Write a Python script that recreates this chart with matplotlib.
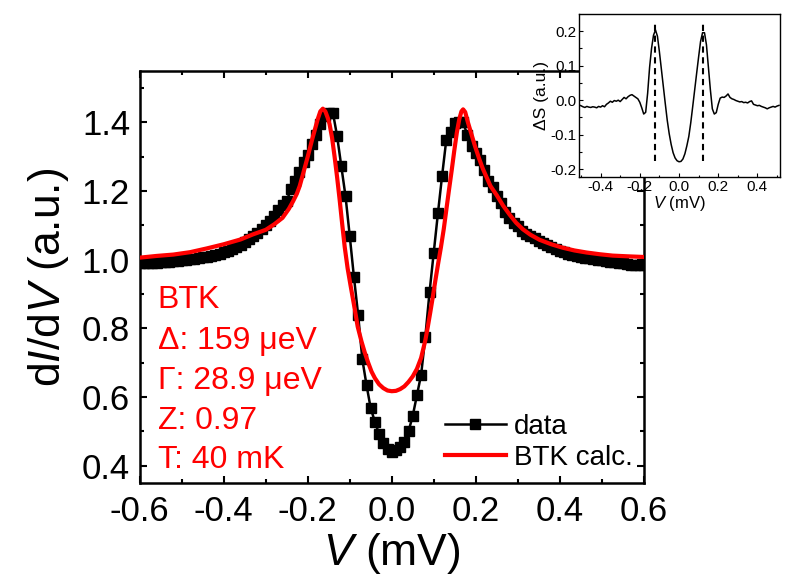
import numpy as np
import matplotlib
matplotlib.use("Agg")
import matplotlib.pyplot as plt
from matplotlib.ticker import MultipleLocator, FormatStrFormatter

plt.rcParams['font.family'] = ['Liberation Sans', 'DejaVu Sans']
plt.rcParams['mathtext.fontset'] = 'custom'
plt.rcParams['mathtext.rm'] = 'Liberation Sans'
plt.rcParams['mathtext.it'] = 'Liberation Sans:italic'
plt.rcParams['axes.unicode_minus'] = False

# ---- measured dI/dV data (V step 0.01 mV) ----
data_v = np.round(np.arange(-60, 61) * 0.01, 2)
data_g = [0.990, 0.990, 0.991, 0.991, 0.991, 0.992, 0.993, 0.994, 0.995, 0.996,
          0.998, 1.000, 1.002, 1.003, 1.005, 1.007, 1.009, 1.012, 1.015, 1.018,
          1.022, 1.026, 1.031, 1.037, 1.044, 1.051, 1.059, 1.069, 1.078, 1.090,
          1.100, 1.112, 1.126, 1.144, 1.160, 1.172, 1.205, 1.228, 1.255, 1.285,
          1.305, 1.336, 1.362, 1.395, 1.420, 1.426, 1.428, 1.360, 1.272, 1.185,
          1.070, 0.950, 0.840, 0.710, 0.635, 0.567, 0.528, 0.492, 0.466, 0.450,
          0.441,
          0.445, 0.455, 0.470, 0.500, 0.545, 0.605, 0.665, 0.775, 0.905, 1.020,
          1.135, 1.245, 1.350, 1.373, 1.399, 1.400, 1.400, 1.364, 1.330, 1.312,
          1.290, 1.262, 1.230, 1.213, 1.185, 1.165, 1.140, 1.122, 1.108, 1.097,
          1.085, 1.076, 1.069, 1.062, 1.055, 1.050, 1.043, 1.036, 1.031, 1.026,
          1.022, 1.017, 1.013, 1.010, 1.008, 1.006, 1.004, 1.002, 1.000, 0.998,
          0.996, 0.994, 0.992, 0.991, 0.989, 0.988, 0.986, 0.985, 0.985, 0.985]

# ---- BTK calculation curve ----
btk_v = [-0.600, -0.560, -0.520, -0.480, -0.440, -0.400, -0.360, -0.330, -0.300, -0.280,
         -0.260, -0.245, -0.235, -0.226, -0.219, -0.210, -0.200, -0.190, -0.183, -0.176,
         -0.170, -0.164, -0.158, -0.152, -0.148, -0.142, -0.136, -0.130, -0.124, -0.118,
         -0.112, -0.105, -0.098, -0.090, -0.081, -0.072, -0.064, -0.056, -0.048, -0.040,
         -0.030, -0.020, -0.010, 0.000,
         0.010, 0.020, 0.030, 0.040, 0.050, 0.060, 0.070, 0.080, 0.086, 0.092,
         0.098, 0.104, 0.110, 0.117, 0.124, 0.130, 0.136, 0.143, 0.149, 0.155,
         0.161, 0.166, 0.170, 0.175, 0.181, 0.190, 0.198, 0.208, 0.217, 0.226,
         0.235, 0.250, 0.265, 0.281, 0.296, 0.312, 0.330, 0.352, 0.380, 0.407,
         0.435, 0.464, 0.495, 0.526, 0.560, 0.600]
btk_g = [1.006, 1.011, 1.015, 1.022, 1.033, 1.045, 1.059, 1.074, 1.087, 1.103,
         1.122, 1.148, 1.170, 1.192, 1.215, 1.255, 1.300, 1.348, 1.379, 1.410,
         1.432, 1.440, 1.432, 1.412, 1.395, 1.355, 1.300, 1.240, 1.175, 1.105,
         1.038, 0.975, 0.925, 0.870, 0.805, 0.762, 0.729, 0.700, 0.674, 0.655,
         0.637, 0.626, 0.619, 0.617,
         0.618, 0.623, 0.631, 0.644, 0.660, 0.682, 0.714, 0.765, 0.805, 0.848,
         0.893, 0.940, 0.985, 1.035, 1.090, 1.145, 1.200, 1.262, 1.318, 1.370,
         1.410, 1.432, 1.438, 1.430, 1.402, 1.365, 1.332, 1.295, 1.265, 1.240,
         1.215, 1.188, 1.158, 1.131, 1.108, 1.089, 1.073, 1.058, 1.045, 1.035,
         1.027, 1.021, 1.016, 1.012, 1.010, 1.008]

# ---- inset: Delta S ----
ds_v = np.round(np.arange(-51, 52) * 0.01, 2)
ds_s = [-0.014, -0.016, -0.019, -0.021, -0.018, -0.020, -0.021, -0.019, -0.020, -0.022,
        -0.018, -0.020, -0.016, -0.019, -0.012, -0.008, -0.003, -0.006, -0.001, -0.003,
        0.000, -0.004, 0.002, 0.008, 0.004, 0.010, 0.014, 0.016, 0.012, 0.008,
        0.004, -0.006, -0.022, -0.040, -0.035, 0.020, 0.095, 0.150, 0.188, 0.203,
        0.185, 0.140, 0.090, 0.040, -0.010, -0.058, -0.097, -0.128, -0.152, -0.167,
        -0.175, -0.178, -0.177, -0.170, -0.155, -0.132, -0.105, -0.065, -0.018, 0.030,
        0.078, 0.125, 0.170, 0.195, 0.195, 0.160, 0.095, 0.030, -0.025, -0.040,
        -0.036, -0.012, 0.006, 0.009, 0.008, 0.012, 0.018, 0.008, 0.004, 0.002,
        -0.001, -0.003, -0.005, -0.004, -0.007, -0.006, -0.008, -0.004, -0.002, -0.012,
        -0.014, -0.016, -0.015, -0.018, -0.020, -0.022, -0.025, -0.022, -0.020, -0.018,
        -0.020, -0.017, -0.015]
gap_lines = [-0.12, 0.124]

annot = ["BTK", "\u0394: 159 \u03bceV", "\u0393: 28.9 \u03bceV", "Z: 0.97", "T: 40 mK"]

fig = plt.figure(figsize=(7.85, 5.86), dpi=100)
ax = fig.add_axes([0.178, 0.176, 0.642, 0.703])

ax.plot(data_v, data_g, '-', color='black', lw=1.8, marker='s', ms=6.5,
        label='data', zorder=2)
ax.plot(btk_v, btk_g, '-', color='#ff0000', lw=3, label='BTK calc.', zorder=3)

ax.set_xlim(-0.6, 0.6)
ax.set_ylim(0.35, 1.55)
ax.xaxis.set_major_locator(MultipleLocator(0.2))
ax.xaxis.set_minor_locator(MultipleLocator(0.1))
ax.yaxis.set_major_locator(MultipleLocator(0.2))
ax.yaxis.set_minor_locator(MultipleLocator(0.1))
ax.xaxis.set_major_formatter(FormatStrFormatter('%.1f'))
ax.yaxis.set_major_formatter(FormatStrFormatter('%.1f'))
ax.tick_params(which='both', direction='in', top=True, right=True, width=1.5)
ax.tick_params(which='major', length=5, labelsize=25)
ax.tick_params(axis='x', which='major', pad=9)
ax.tick_params(axis='y', which='major', pad=7)
ax.tick_params(which='minor', length=3)
for s in ax.spines.values():
    s.set_linewidth(1.8)

ax.set_xlabel('$V$ (mV)', fontsize=32, labelpad=2)
ax.set_ylabel('d$I$/d$V$ (a.u.)', fontsize=32, labelpad=8)

ys = [300, 341, 381, 421, 460]
for txt, yp in zip(annot, ys):
    ax.text(0.036, (483 - yp) / 412, txt, transform=ax.transAxes, color='#ff0000',
            fontsize=23, va='center', ha='left')

leg = ax.legend(loc='upper left', bbox_to_anchor=(0.605, 0.168), frameon=False,
                fontsize=20, handlelength=2.2, handletextpad=0.3, labelspacing=0.2,
                borderpad=0, borderaxespad=0, numpoints=1)

# ---- inset ----
ins = fig.add_axes([0.7376, 0.698, 0.256, 0.278])
ins.set_facecolor('white')
ins.plot(ds_v, ds_s, '-', color='black', lw=1.1)
for g in gap_lines:
    ins.plot([g, g], [-0.175, 0.23], '--', color='black', lw=1.5, dashes=(3, 2.2))
ins.set_xlim(-0.51, 0.515)
ins.set_ylim(-0.222, 0.249)
ins.xaxis.set_major_locator(MultipleLocator(0.2))
ins.xaxis.set_minor_locator(MultipleLocator(0.1))
ins.yaxis.set_major_locator(MultipleLocator(0.1))
ins.yaxis.set_minor_locator(MultipleLocator(0.05))
ins.xaxis.set_major_formatter(FormatStrFormatter('%.1f'))
ins.yaxis.set_major_formatter(FormatStrFormatter('%.1f'))
ins.tick_params(which='both', direction='in', width=0.8, labelsize=11, pad=2)
ins.tick_params(which='major', length=3)
ins.tick_params(which='minor', length=1.8)
for s in ins.spines.values():
    s.set_linewidth(1.0)
ins.set_xlabel('$V$ (mV)', fontsize=12, labelpad=0)
ins.set_ylabel('\u0394S (a.u.)', fontsize=12.5, labelpad=1)

fig.savefig('out.png', dpi=100)
